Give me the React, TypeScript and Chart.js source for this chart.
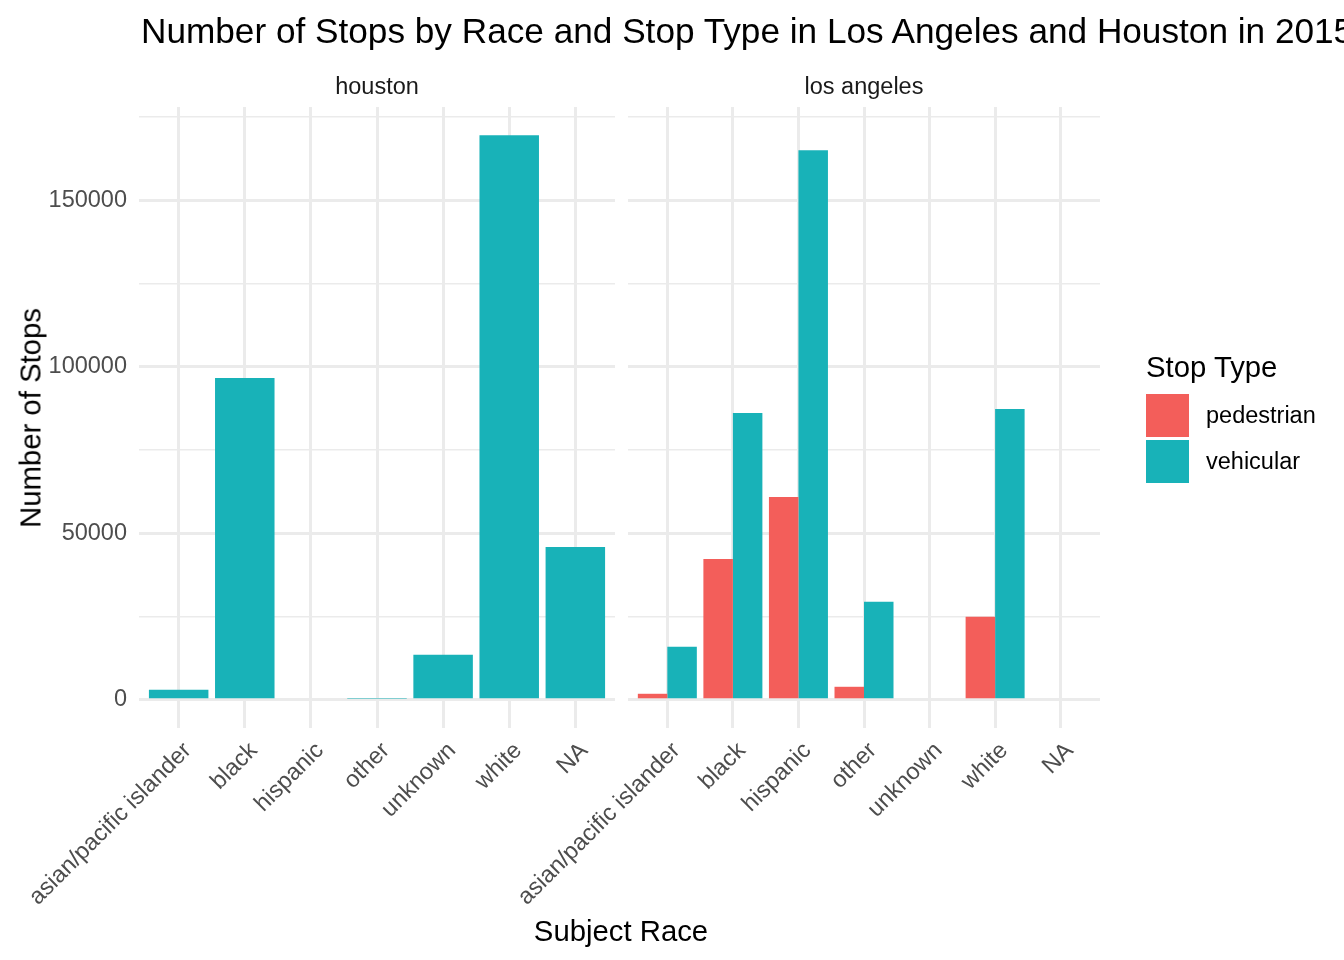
import React, { useEffect, useRef } from "react";
import { Chart, registerables } from "chart.js";

Chart.register(...registerables);

// ---- data ----
const races = ["asian/pacific islander", "black", "hispanic", "other", "unknown", "white", "NA"];
const houstonVehicular = [3000, 96600, 0, 300, 13500, 169500, 45900];
const laPedestrian = [1800, 42300, 60900, 3900, 0, 24900, 0];
const laVehicular = [15900, 86100, 165000, 29400, 0, 87300, 0];
const yTickValues = [0, 25000, 50000, 75000, 100000, 125000, 150000, 175000];
const yLabelStep = 50000;
const yRange = [-8475, 177975];
const xRange = [0.4, 7.6];

// ---- style ----
const FONT = '"Liberation Sans", Arial, Helvetica, sans-serif';
const PED = "#F35E5A";
const VEH = "#18B2B8";
const GRID = "#EBEBEB";
const TICK = "#4D4D4D";
const W = 1344;
const H = 960;
const PANEL_TOP = 107;
const PANEL_BOTTOM = 728;
const XAXIS_H = 200;
const SMALL = 23.5;
const MID = 29.3;
const BIG = 35.2;

type Panel = {
  left: number;
  right: number;
  showY: boolean;
  datasets: { label: string; values: number[]; color: string }[];
};

function buildConfig(p: Panel): any {
  return {
    type: "bar",
    data: {
      datasets: p.datasets.map((d) => ({
        label: d.label,
        data: d.values.map((v, i) => ({ x: i + 1, y: v })),
        backgroundColor: d.color,
        borderWidth: 0,
        categoryPercentage: 0.9,
        barPercentage: 1,
      })),
    },
    options: {
      responsive: false,
      animation: false,
      events: [],
      layout: {
        padding: {
          left: p.showY ? 0 : p.left,
          right: W - p.right,
          top: PANEL_TOP,
          bottom: H - PANEL_BOTTOM - XAXIS_H,
        },
      },
      plugins: { legend: { display: false }, tooltip: { enabled: false }, title: { display: false } },
      scales: {
        x: {
          type: "linear",
          min: xRange[0],
          max: xRange[1],
          offset: false,
          border: { display: false },
          grid: { color: GRID, lineWidth: 3, drawTicks: false, offset: false },
          afterBuildTicks: (axis: any) => {
            axis.ticks = races.map((_, i) => ({ value: i + 1 }));
          },
          afterFit: (axis: any) => {
            axis.height = XAXIS_H;
            axis.paddingLeft = 0;
            axis.paddingRight = 0;
          },
          ticks: {
            autoSkip: false,
            minRotation: 45,
            maxRotation: 45,
            padding: 9,
            labelOffset: 9,
            color: TICK,
            font: { family: FONT, size: SMALL },
            callback: (v: number) => races[Math.round(v) - 1] ?? "",
          },
        },
        y: {
          type: "linear",
          min: yRange[0],
          max: yRange[1],
          border: { display: false },
          grid: {
            color: GRID,
            drawTicks: false,
            lineWidth: (ctx: any) => (ctx.tick && ctx.tick.value % yLabelStep === 0 ? 3 : 1.5),
          },
          afterBuildTicks: (axis: any) => {
            axis.ticks = yTickValues.map((v) => ({ value: v }));
          },
          afterFit: (axis: any) => {
            axis.width = p.showY ? p.left : 0;
            axis.paddingTop = 0;
            axis.paddingBottom = 0;
          },
          ticks: {
            display: p.showY,
            padding: 12,
            color: TICK,
            font: { family: FONT, size: SMALL },
            callback: (v: number) => (v % yLabelStep === 0 ? String(v) : ""),
          },
        },
      },
    },
  };
}

function PanelChart({ panel }: { panel: Panel }) {
  const ref = useRef<HTMLCanvasElement | null>(null);
  useEffect(() => {
    if (!ref.current) return;
    const chart = new Chart(ref.current, buildConfig(panel));
    return () => chart.destroy();
  }, []);
  return (
    <canvas
      ref={ref}
      width={W}
      height={H}
      style={{ position: "absolute", left: 0, top: 0, width: W, height: H }}
    />
  );
}

const txt = (extra: React.CSSProperties): React.CSSProperties => ({
  position: "absolute",
  fontFamily: FONT,
  whiteSpace: "nowrap",
  color: "#000",
  ...extra,
});

export default function App() {
  const houston: Panel = {
    left: 139,
    right: 615,
    showY: true,
    datasets: [{ label: "vehicular", values: houstonVehicular, color: VEH }],
  };
  const la: Panel = {
    left: 628,
    right: 1100,
    showY: false,
    datasets: [
      { label: "pedestrian", values: laPedestrian, color: PED },
      { label: "vehicular", values: laVehicular, color: VEH },
    ],
  };
  return (
    <div
      style={{
        position: "absolute",
        left: 0,
        top: 0,
        width: W,
        height: H,
        overflow: "hidden",
        background: "#fff",
      }}
    >
      <PanelChart panel={houston} />
      <PanelChart panel={la} />
      <div style={txt({ left: 141, top: 30, fontSize: BIG, lineHeight: "35px", transform: "translateY(-50%)" })}>
        Number of Stops by Race and Stop Type in Los Angeles and Houston in 2015
      </div>
      <div style={txt({ left: 377, top: 86, fontSize: SMALL, lineHeight: "24px", color: "#1A1A1A", transform: "translate(-50%,-50%)" })}>
        houston
      </div>
      <div style={txt({ left: 864, top: 86, fontSize: SMALL, lineHeight: "24px", color: "#1A1A1A", transform: "translate(-50%,-50%)" })}>
        los angeles
      </div>
      <div
        style={txt({
          left: 30,
          top: 418,
          fontSize: MID,
          lineHeight: "29px",
          transform: "translate(-50%,-50%) rotate(-90deg)",
        })}
      >
        Number of Stops
      </div>
      <div style={txt({ left: 621, top: 930, fontSize: MID, lineHeight: "29px", transform: "translate(-50%,-50%)" })}>
        Subject Race
      </div>
      <div style={txt({ left: 1146, top: 366, fontSize: MID, lineHeight: "29px", transform: "translateY(-50%)" })}>
        Stop Type
      </div>
      <div style={{ position: "absolute", left: 1146, top: 394, width: 43, height: 43, background: PED }} />
      <div style={{ position: "absolute", left: 1146, top: 440, width: 43, height: 43, background: VEH }} />
      <div style={txt({ left: 1206, top: 415, fontSize: SMALL, lineHeight: "24px", transform: "translateY(-50%)" })}>
        pedestrian
      </div>
      <div style={txt({ left: 1206, top: 461, fontSize: SMALL, lineHeight: "24px", transform: "translateY(-50%)" })}>
        vehicular
      </div>
    </div>
  );
}
